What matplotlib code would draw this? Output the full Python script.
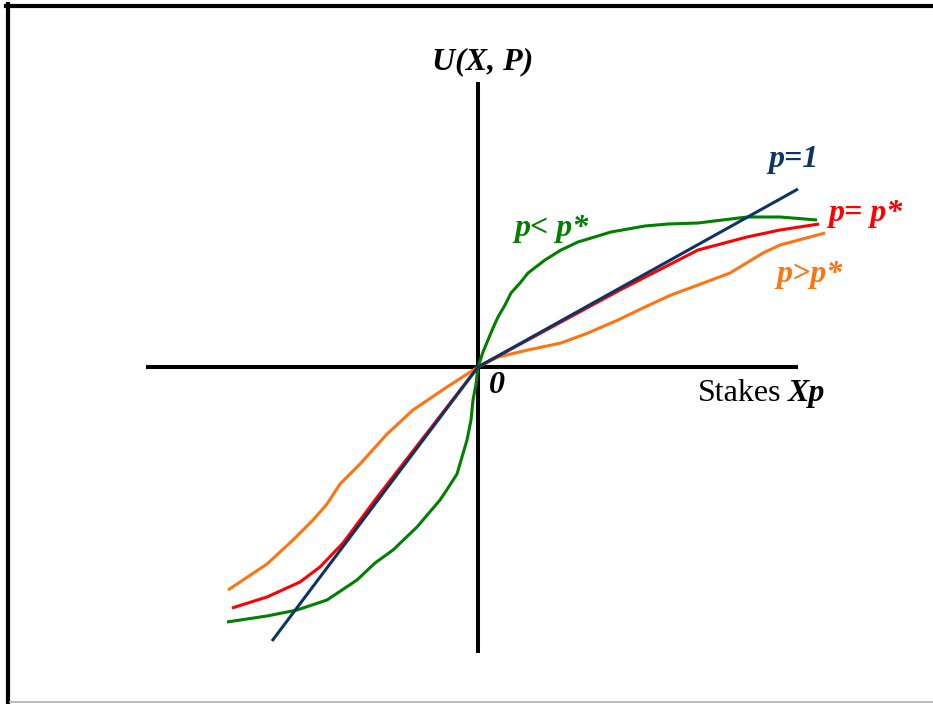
import matplotlib.pyplot as plt
from matplotlib.lines import Line2D

plt.rcParams['font.family'] = ['Liberation Serif', 'DejaVu Serif']

# Utility curves U(X, P) for different probabilities (units: stakes Xp)
x_one = [-2.06, 0.0, 3.20]
u_one = [-2.74, 0.0, 1.78]

x_star = [-2.46, -2.11, -1.78, -1.58, -1.35, -1.03, -0.58, 0.0, 0.72, 1.42,
          2.20, 2.69, 3.02, 3.41]
u_star = [-2.41, -2.30, -2.15, -2.00, -1.76, -1.33, -0.75, 0.0, 0.39, 0.77,
          1.17, 1.30, 1.37, 1.43]

x_low = [-2.51, -2.11, -1.81, -1.51, -1.21, -1.03, -0.85, -0.61, -0.38, -0.30,
         -0.21, -0.16, -0.11, -0.07, -0.05, -0.02, 0.0, 0.05, 0.10, 0.15, 0.20,
         0.27, 0.33, 0.42, 0.50, 0.67, 0.83, 1.00, 1.33, 1.50, 1.67, 1.90,
         2.20, 2.69, 3.02, 3.39]
u_low = [-2.55, -2.49, -2.43, -2.33, -2.13, -1.96, -1.83, -1.60, -1.33, -1.21,
         -1.07, -0.90, -0.73, -0.53, -0.33, -0.17, 0.0, 0.15, 0.27, 0.39, 0.50,
         0.62, 0.74, 0.84, 0.94, 1.07, 1.17, 1.25, 1.35, 1.38, 1.41, 1.43,
         1.44, 1.50, 1.50, 1.47]

x_high = [-2.50, -2.11, -1.85, -1.65, -1.51, -1.38, -1.18, -0.91, -0.65, -0.31,
          0.0, 0.20, 0.50, 0.83, 1.10, 1.40, 1.67, 1.93, 2.20, 2.52, 2.85,
          3.02, 3.47]
u_high = [-2.23, -1.97, -1.73, -1.53, -1.37, -1.17, -0.97, -0.67, -0.43, -0.20,
          0.0, 0.10, 0.17, 0.24, 0.34, 0.47, 0.60, 0.72, 0.82, 0.94, 1.14,
          1.22, 1.34]

NAVY = '#0d3563'
GREEN = '#007f00'
RED = '#ff0000'
ORANGE = '#ff7411'

fig = plt.figure(figsize=(9.33, 7.04), dpi=100)
ax = fig.add_axes([0, 0, 1, 1])
ax.set_xlim(-4.78, 4.55)
ax.set_ylim(-3.37, 3.67)
ax.axis('off')

# frame around the slide
fig.add_artist(Line2D([0.0065, 1.0], [1 - 6 / 704, 1 - 6 / 704], color='black', lw=3,
                      transform=fig.transFigure))
fig.add_artist(Line2D([8 / 933, 8 / 933], [0.0, 1 - 4 / 704], color='black', lw=3,
                      transform=fig.transFigure))
fig.add_artist(Line2D([10 / 933, 1.0], [2 / 704, 2 / 704], color='#b0b0b0', lw=1.2,
                      transform=fig.transFigure))

# axes
ax.plot([-3.32, 3.20], [0, 0], color='black', lw=2.9, solid_capstyle='butt')
ax.plot([0, 0], [-2.86, 2.85], color='black', lw=2.9, solid_capstyle='butt')

kw = dict(lw=2.2, solid_capstyle='butt', solid_joinstyle='round')
ax.plot(x_high, u_high, color=ORANGE, **kw)
ax.plot(x_low, u_low, color=GREEN, **kw)
ax.plot(x_star, u_star, color=RED, **kw)
ax.plot(x_one, u_one, color=NAVY, **kw)

FS = 23
lab = dict(fontsize=FS, fontweight='bold', fontstyle='italic', ha='center', va='center')
ax.text(0.05, 3.05, 'U(X, P)', color='black', **lab)
ax.text(3.15, 2.07, 'p=1', color=NAVY, **lab)
ax.text(3.87, 1.53, 'p= p*', color=RED, **lab)
ax.text(3.31, 0.92, 'p>p*', color=ORANGE, **lab)
ax.text(0.73, 1.38, 'p< p*', color=GREEN, **lab)
ax.text(0.19, -0.19, '0', color='black', **lab)
ax.text(2.20, -0.27, 'Stakes', color='black', fontsize=FS, ha='left', va='center')
ax.text(3.10, -0.27, 'Xp', color='black', fontsize=FS, fontweight='bold',
        fontstyle='italic', ha='left', va='center')

fig.savefig('out.png', dpi=100)
